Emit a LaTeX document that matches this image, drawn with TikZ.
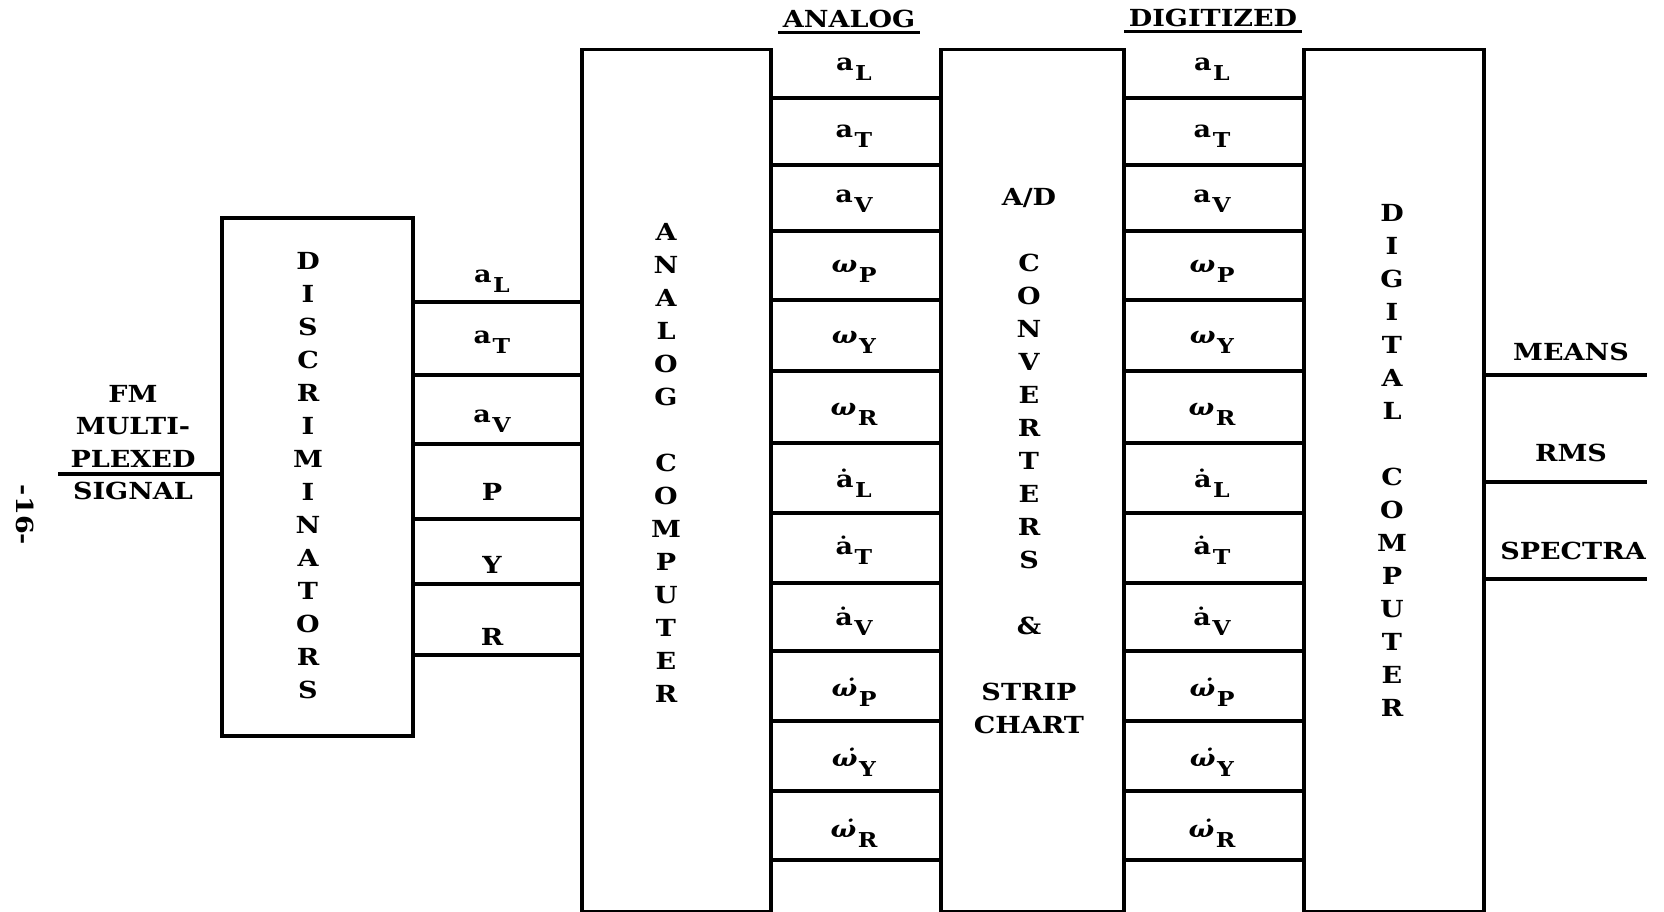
\documentclass[tikz,border=0pt]{standalone}
\usepackage{fontspec}
\setmainfont{DejaVu Serif}[FakeStretch=1.15]
\newcommand\sg[2]{#1\kern1.5pt\raisebox{-10pt}{\fontsize{20.5}{20.5}\selectfont #2}}
\newcommand\om{\textit{ω}}
\newcommand\omd{\textit{ω^^^^0307}}
\newcommand\cellcol[2]{%
  \node (#2-1) at (#1,69) {\sg{a}{L}};
  \node (#2-2) at (#1,136) {\sg{a}{T}};
  \node (#2-3) at (#1,201) {\sg{a}{V}};
  \node (#2-4) at (#1,271) {\sg{\om}{P}};
  \node (#2-5) at (#1,342) {\sg{\om}{Y}};
  \node (#2-6) at (#1,414) {\sg{\om}{R}};
  \node (#2-7) at (#1,483) {\sg{ȧ}{L}};
  \node (#2-8) at (#1,550) {\sg{ȧ}{T}};
  \node (#2-9) at (#1,621) {\sg{ȧ}{V}};
  \node (#2-10) at (#1,692) {\sg{\omd}{P}};
  \node (#2-11) at (#1,762) {\sg{\omd}{Y}};
  \node (#2-12) at (#1,833) {\sg{\omd}{R}};
}
\begin{document}
\begin{tikzpicture}[x=1pt,y=-1pt,
  every node/.style={font=\bfseries\fontsize{23.5}{33}\selectfont, inner sep=0pt},
  box/.style={draw, line width=3.5pt, rectangle, anchor=north west, inner sep=0pt},
  wire/.style={line width=3.5pt},
  stack/.style={align=center},
  uline/.style={line width=2.5pt}]
\useasboundingbox (0,0) rectangle (1664,912);

% boxes
\node[box, minimum width=191pt, minimum height=518pt] (disc) at (220,216) {};
\node[box, minimum width=189pt, minimum height=862pt] (acomp) at (580,48) {};
\node[box, minimum width=183pt, minimum height=862pt] (ad) at (939,48) {};
\node[box, minimum width=180pt, minimum height=862pt] (dcomp) at (1302,48) {};

% box texts
\node[stack] (disc-t) at (308,476) {D\\I\\S\\C\\R\\I\\M\\I\\N\\A\\T\\O\\R\\S};
\node[stack] (acomp-t) at (666,462.5) {A\\N\\A\\L\\O\\G\\[33pt]C\\O\\M\\P\\U\\T\\E\\R};
\node[stack] (ad-t) at (1029,461) {A/D\\[33pt]C\\O\\N\\V\\E\\R\\T\\E\\R\\S\\[33pt]\&\\[33pt]STRIP\\CHART};
\node[stack] (dcomp-t) at (1392,460) {D\\I\\G\\I\\T\\A\\L\\[33pt]C\\O\\M\\P\\U\\T\\E\\R};

% input
\node[stack, font=\bfseries\fontsize{23.5}{32.5}\selectfont] (fm) at (133,442.5) {FM\\MULTI-\\PLEXED\\SIGNAL};
\coordinate (fmin) at (58,474);
\draw[wire] (fmin) -- (disc.west |- fmin);

% page number
\node[rotate=-90] (pg) at (25,515) {-16-};

% discriminator outputs
\foreach \y in {302,375,444,519,584,655}
  \draw[wire] (disc.east |- 0,\y) -- (acomp.west |- 0,\y);
\node (sL) at (492,281) {\sg{a}{L}};
\node (sT) at (492,342) {\sg{a}{T}};
\node (sV) at (492,421) {\sg{a}{V}};
\node (sP) at (492,492) {P};
\node (sY) at (492,565) {Y};
\node (sR) at (492,637) {R};

% columns
\foreach \y in {98,165,231,300,371,443,513,583,651,721,791,860}{
  \draw[wire] (acomp.east |- 0,\y) -- (ad.west |- 0,\y);
  \draw[wire] (ad.east |- 0,\y) -- (dcomp.west |- 0,\y);
}
\cellcol{854}{an}
\cellcol{1212}{dg}

% headings
\node[inner sep=4.5pt] (hA) at (849,19) {ANALOG};
\draw[uline] (hA.south west) -- (hA.south east);
\node[inner sep=4.5pt] (hD) at (1213,18) {DIGITIZED};
\draw[uline] (hD.south west) -- (hD.south east);

% outputs
\coordinate (o1) at (1647,375);
\coordinate (o2) at (1647,482);
\coordinate (o3) at (1647,579);
\draw[wire] (dcomp.east |- o1) -- (o1);
\draw[wire] (dcomp.east |- o2) -- (o2);
\draw[wire] (dcomp.east |- o3) -- (o3);
\node (means) at (1571,352) {MEANS};
\node (rms) at (1571,453) {RMS};
\node (spectra) at (1573,551) {SPECTRA};
\end{tikzpicture}
\end{document}
